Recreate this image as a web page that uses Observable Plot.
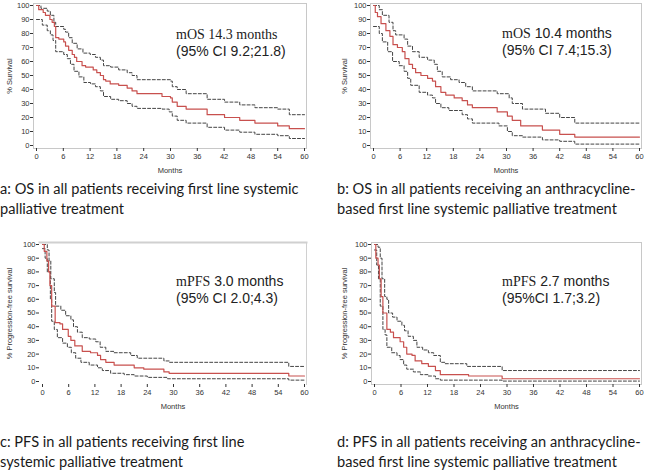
<!DOCTYPE html>
<html>
<head>
<meta charset="utf-8">
<script src="https://cdn.jsdelivr.net/npm/d3@7"></script>
<script src="https://cdn.jsdelivr.net/npm/@observablehq/plot@0.6"></script>
<style>
  html, body { margin: 0; padding: 0; background: #fff; }
  #root { position: relative; width: 669px; height: 473px; overflow: hidden; background: #fff; }
  .panel { position: absolute; }
  .cap { position: absolute; font-family: Lato, "Open Sans", sans-serif; font-size: 14.6px; line-height: 20px; color: #1a1a1a; white-space: nowrap; }
  .note { position: absolute; font-family: "Liberation Sans", Arial, sans-serif; font-size: 14px; line-height: 16px; color: #222; white-space: nowrap; }
  .serif { font-family: "Liberation Serif", "Times New Roman", serif; }
</style>
</head>
<body>
<div id="root"></div>
<script>
// ---- tick labels ----
const monthTicks = [0, 6, 12, 18, 24, 30, 36, 42, 48, 54, 60];
const survivalTicks = [0, 10, 20, 30, 40, 50, 60, 70, 80, 90, 100];

// ---- a: OS, all patients (month, % survival) ----
const osAllMedian = [[0,100],[0.5,97],[1.5,95],[2,93],[3,90],[3.5,88],[4,85],[4.3,77],[5,76],[6.1,74],[6.5,71],[7.2,68],[8,65],[8.5,63],[9,60],[10.2,57],[11,56],[12.7,54],[13.5,52],[14.3,50],[15,47],[15.5,46],[16.5,44],[18.4,43],[20.3,41],[21.4,39],[22.5,37],[28.1,35],[30,34],[30.4,31],[31.5,28],[33.5,26],[38.2,22],[42.1,20],[45.5,18],[48.9,16],[54,14],[56.6,12],[60,12]];
const osAllUpper = [[0,100],[1,98],[2.4,96],[3.1,93],[3.9,88],[4.3,85],[6.1,83],[6.5,81],[7.2,77],[8,73],[9.1,69],[10.4,66],[12,65],[13.2,63],[14.3,61],[15,57],[16.6,56],[18.4,54],[20.3,52],[21.4,50],[22.5,47],[28.1,47],[30,46],[30.4,42],[31.5,40],[33.5,37],[38.2,33],[42.1,31],[45.5,29],[48.9,27],[54,26],[56.6,22],[60,22]];
const osAllLower = [[0,90],[1.3,86],[2.4,82],[3.1,79],[3.7,75],[4.3,67],[6.1,65],[6.9,62],[7.6,58],[8.4,53],[9.5,49],[10.6,45],[12.1,44],[13.2,42],[14.3,39],[15,35],[16.6,33],[18.4,32],[20.3,30],[21.4,28],[22.5,26.5],[28.1,26],[29.7,24],[30.4,21],[31.5,18],[33.5,16],[38.2,13],[42.1,11],[45.5,9.5],[48.9,8],[54,7],[56.6,5],[60,5]];

// ---- b: OS, anthracycline-based ----
const osAnthMedian = [[0,100],[0.4,95],[0.9,92],[1.7,87],[2.8,82],[3.7,78],[4.4,72],[5.4,70],[6.5,67],[7.1,62],[8,58],[8.8,55],[9.5,52],[10.7,50],[12.2,48],[13.3,46],[14,42],[15.2,38],[16.3,36],[18.2,34],[20,32],[21.2,29],[22.3,27],[27.9,24],[30.2,21],[31.3,18],[33.2,14],[38.1,11],[42,8],[45.4,6],[60,6]];
const osAnthUpper = [[0,100],[1.3,97],[2,93],[3.5,88],[4.4,82],[5,79],[6.9,76],[7.7,71],[8.8,67],[10.3,63],[12.2,61],[13.7,58],[14.4,53],[15.5,49],[17.4,47],[19.3,45],[20.8,42],[22.3,39],[27.9,37],[30.6,34],[31.3,30],[33.6,26],[38.8,23],[42,20],[45.4,16],[60,16]];
const osAnthLower = [[0,85],[1.3,80],[2,74],[3.2,67],[4.3,60],[5.8,57],[6.9,53],[7.7,48],[8.4,43],[10.3,38],[12.2,36],[13.3,34],[14,30],[15.2,27],[17,25],[20,22],[21.2,19],[22.3,16],[28.3,14],[30.2,10],[31.3,7],[33.6,6],[38.1,4],[42,3],[45.4,1],[60,1]];

// ---- c: PFS, all patients ----
const pfsAllMedian = [[0,100],[0.4,95],[1,88],[1.4,80],[1.7,70],[2.1,55],[2.9,43],[4,42],[4.6,38],[5.9,33],[6.5,30],[7.4,26],[9.1,22],[11,21],[12.6,19],[13.3,16],[14.5,14],[16.4,12],[21,10],[23.2,9],[27.8,7],[29,6],[56.4,4],[60,4]];
const pfsAllUpper = [[0,100],[1.1,96],[1.5,88],[1.9,75],[2.7,65],[3,55],[4.2,52],[5.3,48],[6.5,45],[7.1,40],[8,36],[9.1,32],[10.7,31],[12.2,29],[13.2,25],[14.5,22],[16.4,21],[20.2,19],[21.7,17],[27.8,15],[29,14],[56.4,11],[60,11]];
const pfsAllLower = [[0,97],[0.6,90],[1.1,80],[1.8,60],[2.1,44],[2.7,38],[3.4,32],[4.6,28],[5.7,25],[6.6,21],[7.6,17],[8.8,14],[10.7,12],[12.6,10],[13.7,8],[15.6,6],[18.7,5],[21,4],[24,3],[28.6,2],[56.4,1],[60,1]];

// ---- d: PFS, anthracycline-based ----
const pfsAnthMedian = [[0,100],[0.3,90],[0.8,85],[1.1,75],[1.5,62],[1.9,50],[2.8,38],[3.6,36],[4.3,32],[5.8,29],[6.6,25],[7.3,20],[8.5,19],[9.2,15],[10.7,13],[12.2,11],[13.8,8],[14.9,5],[21.3,4],[28.9,2],[60,2]];
const pfsAnthUpper = [[0,100],[0.8,98],[1.3,90],[1.7,75],[2.3,62],[2.8,60],[3.2,50],[4.1,47],[5.1,44],[6.2,41],[6.8,37],[7.6,33],[8.8,30],[9.6,25],[10.9,23],[12.2,21],[13.4,19],[14.9,14],[16,13],[20.9,11],[28.9,8],[60,8]];
const pfsAnthLower = [[0,96],[0.5,85],[0.9,75],[1.3,55],[1.9,38],[2.4,34],[2.8,25],[3.9,21],[5.1,19],[5.8,16],[6.6,12],[7.3,9],[8.8,7],[10.4,5],[12.2,4],[13.8,2],[14.9,1],[28.9,0.3],[60,0.3]];

const panels = [
  {median: osAllMedian, upper: osAllUpper, lower: osAllLower, yLabel: "% Survival",
   left: 0, top: 0, width: 335, height: 178, mL: 33, mR: 29, mT: 3, mB: 30, frame: "all",
   note1: ['<span class="serif">mOS 14.3 months</span>'], note2: "(95% CI 9.2;21.8)", nx: 176, ny: 26,
   cap: ["a: OS in all patients receiving first line systemic", "palliative treatment"], cx: 0, cy: 179},
  {median: osAnthMedian, upper: osAnthUpper, lower: osAnthLower, yLabel: "% Survival",
   left: 335, top: 0, width: 334, height: 178, mL: 35, mR: 28, mT: 3, mB: 30, frame: "all",
   note1: ['<span class="serif">mOS</span> 10.4 months'], note2: "(95% CI 7.4;15.3)", nx: 502, ny: 25,
   cap: ["b: OS in all patients receiving an anthracycline-", "based first line systemic palliative treatment"], cx: 337, cy: 179},
  {median: pfsAllMedian, upper: pfsAllUpper, lower: pfsAllLower, yLabel: "% Progression-free survival",
   left: 0, top: 238, width: 335, height: 180, mL: 39, mR: 29, mT: 4, mB: 34, frame: "topright",
   note1: ['<span class="serif">mPFS</span> 3.0 months'], note2: "(95% CI 2.0;4.3)", nx: 176, ny: 273,
   cap: ["c: PFS in all patients receiving first line", "systemic palliative treatment"], cx: 0, cy: 432},
  {median: pfsAnthMedian, upper: pfsAnthUpper, lower: pfsAnthLower, yLabel: "% Progression-free survival",
   left: 335, top: 238, width: 334, height: 180, mL: 36, mR: 28, mT: 4, mB: 34, frame: "all",
   note1: ['<span class="serif">mPFS</span> 2.7 months'], note2: "(95%CI 1.7;3.2)", nx: 502, ny: 273,
   cap: ["d: PFS in all patients receiving an anthracycline-", "based first line systemic palliative treatment"], cx: 337, cy: 432}
];

const root = document.getElementById("root");
const fx = d => d[0], fy = d => d[1];

for (const p of panels) {
  const frameMarks = p.frame === "all"
    ? [Plot.frame({stroke: "#c8c8c8"})]
    : [Plot.frame({anchor: "top", stroke: "#d0d0d0", strokeWidth: 2}), Plot.frame({anchor: "right", stroke: "#d0d0d0"})];
  const chart = Plot.plot({
    width: p.width, height: p.height,
    marginLeft: p.mL, marginRight: p.mR, marginTop: p.mT, marginBottom: p.mB,
    x: {domain: [0, 60], insetLeft: 3, insetRight: 2},
    y: {domain: [0, 100], insetTop: 2, insetBottom: 3},
    style: {fontFamily: '"Liberation Sans", Arial, sans-serif', fontSize: "8px", color: "#333", background: "white", overflow: "visible"},
    marks: [
      ...frameMarks,
      Plot.axisX({ticks: monthTicks, tickSize: 3, tickPadding: 2, label: "Months", labelAnchor: "center", labelArrow: "none", labelOffset: 24, fontSize: 7.5}),
      Plot.axisY({ticks: survivalTicks, tickSize: 3, tickPadding: 1, label: p.yLabel, labelAnchor: "center", labelArrow: "none", labelOffset: p.mL - 6, fontSize: 7.5}),
      Plot.line(p.upper, {x: fx, y: fy, curve: "step-after", stroke: "#444", strokeWidth: 1, strokeDasharray: "3,2"}),
      Plot.line(p.lower, {x: fx, y: fy, curve: "step-after", stroke: "#444", strokeWidth: 1, strokeDasharray: "3,2"}),
      Plot.line(p.median, {x: fx, y: fy, curve: "step-after", stroke: "#c8504e", strokeWidth: 1.2})
    ]
  });
  const holder = document.createElement("div");
  holder.className = "panel";
  holder.style.left = p.left + "px";
  holder.style.top = p.top + "px";
  holder.appendChild(chart);
  root.appendChild(holder);

  const note = document.createElement("div");
  note.className = "note";
  note.style.left = p.nx + "px";
  note.style.top = p.ny + "px";
  note.innerHTML = p.note1.join("") + "<br>" + p.note2;
  root.appendChild(note);

  const cap = document.createElement("div");
  cap.className = "cap";
  cap.style.left = p.cx + "px";
  cap.style.top = p.cy + "px";
  cap.innerHTML = p.cap.join("<br>");
  root.appendChild(cap);
}
</script>
</body>
</html>
